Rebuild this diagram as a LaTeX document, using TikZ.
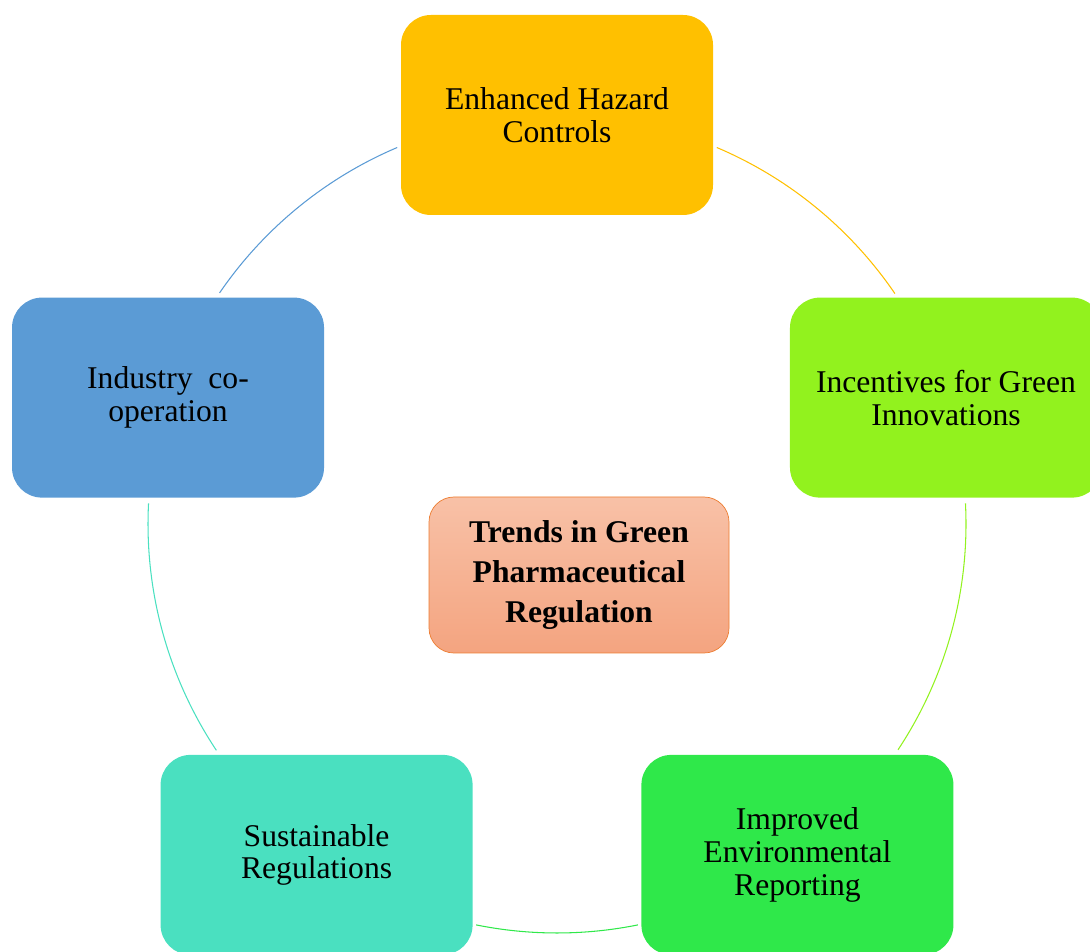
\documentclass[tikz,border=0pt]{standalone}
\usepackage{fontspec}
\setmainfont{Liberation Serif}
\usetikzlibrary{calc,positioning}

\definecolor{hazardcol}{RGB}{255,192,0}
\definecolor{incentcol}{RGB}{146,242,30}
\definecolor{reportcol}{RGB}{47,232,74}
\definecolor{sustaincol}{RGB}{74,224,192}
\definecolor{coopcol}{RGB}{91,155,213}
\definecolor{trendtop}{RGB}{248,193,167}
\definecolor{trendbot}{RGB}{244,164,128}
\definecolor{trendline}{RGB}{237,125,49}

\begin{document}
\begin{tikzpicture}[
  every node/.style={font=\fontsize{18}{18.7}\selectfont},
  box/.style={rounded corners=0.6cm, align=center, minimum width=6.24cm, minimum height=4cm, inner sep=4pt},
  hub/.style={draw=trendline, rounded corners=0.5cm, align=center, minimum width=6cm, minimum height=3.12cm,
    top color=trendtop, bottom color=trendbot, font=\fontsize{18}{22.9}\selectfont\bfseries},
  link/.style={line width=0.6pt}]

\useasboundingbox (0,0) rectangle (21.8,19.02);

% centre of the ring
\coordinate (c) at (11.14,8.54);

\node[box, fill=hazardcol] (hazard) at ($(c)+(90:8.18)$) {Enhanced Hazard\\Controls};
\node[box, fill=incentcol] (incent) at ($(c)+(18:8.18)$) {Incentives for Green\\Innovations};
\node[box, fill=reportcol] (report) at ($(c)+(-54:8.18)$) {Improved\\Environmental\\Reporting};
\node[box, fill=sustaincol] (sustain) at ($(c)+(234:8.18)$) {Sustainable\\Regulations};
\node[box, fill=coopcol] (coop) at ($(c)+(162:8.18)$) {Industry\ \ co-\\operation};

\node[hub] (trend) at (11.58,7.52) {Trends in Green\\Pharmaceutical\\Regulation};

% ring segments between the boxes
\draw[link, hazardcol] ($(c)+(67:8.18)$) arc[start angle=67, end angle=34.3, radius=8.18];
\draw[link, incentcol] ($(c)+(2.9:8.18)$) arc[start angle=2.9, end angle=-33.5, radius=8.18];
\draw[link, reportcol] ($(c)+(-78.6:8.18)$) arc[start angle=-78.6, end angle=-101.4, radius=8.18];
\draw[link, sustaincol] ($(c)+(213.6:8.18)$) arc[start angle=213.6, end angle=177.1, radius=8.18];
\draw[link, coopcol] ($(c)+(145.6:8.18)$) arc[start angle=145.6, end angle=113, radius=8.18];

\end{tikzpicture}
\end{document}
